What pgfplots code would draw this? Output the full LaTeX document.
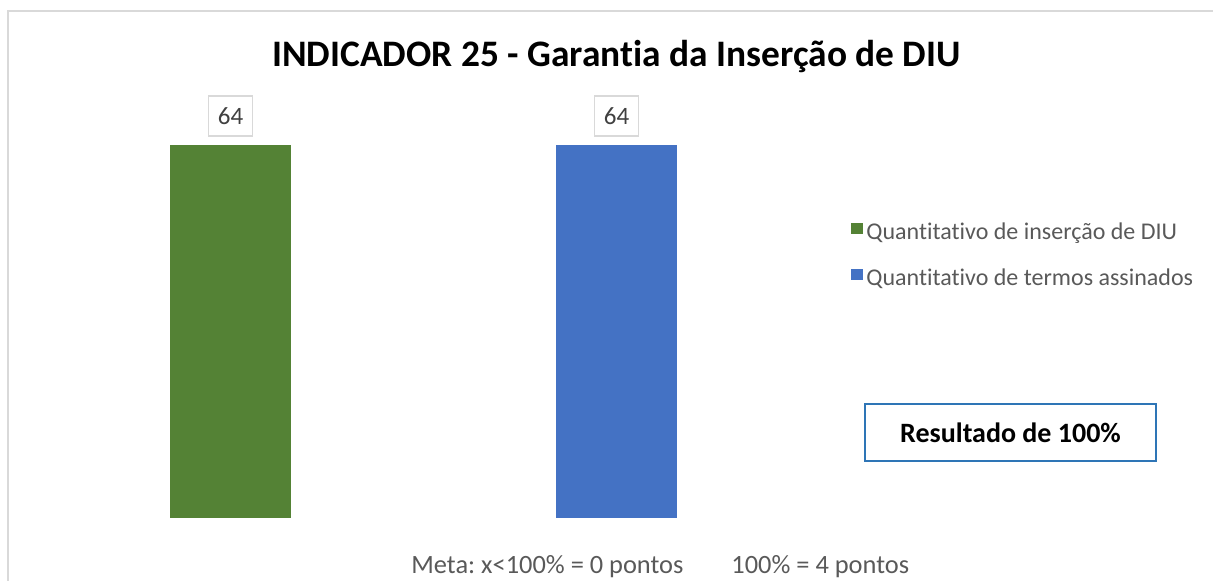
\documentclass[border=0pt]{standalone}
\usepackage{fontspec}
\setmainfont{Carlito}[RawFeature=-liga]
\usepackage{pgfplots}
\pgfplotsset{compat=1.18}
\definecolor{cgreen}{HTML}{548235}
\definecolor{cblue}{HTML}{4472C4}
\definecolor{cborder}{HTML}{D9D9D9}
\definecolor{clegend}{HTML}{595959}
\definecolor{clabel}{HTML}{404040}
\definecolor{cres}{HTML}{2E75B6}
\frenchspacing
\begin{document}
\begin{tikzpicture}
\useasboundingbox (0,0) rectangle (606.5pt,-290.5pt);
\begin{scope}[x=0.5pt,y=-0.5pt]
\draw[cborder,line width=1pt] (7.5,581) -- (7.5,11.5) -- (1213,11.5);
\node[anchor=base,font=\fontsize{18.7}{22}\selectfont\bfseries] at (616.5,67) {INDICADOR 25 - Garantia da Inserção de DIU};
\node[draw=cres,line width=1pt,minimum width=145.5pt,minimum height=28.5pt,inner sep=0pt,font=\fontsize{14}{16}\selectfont\bfseries] at (1010.5,432.5) {Resultado de 100\%};
\node[anchor=base west,inner sep=0pt,text=clegend,font=\fontsize{13.2}{15}\selectfont] at (411,573) {Meta: x<100\% = 0 pontos};
\node[anchor=base west,inner sep=0pt,text=clegend,font=\fontsize{13.2}{15}\selectfont] at (731,573) {100\% = 4 pontos};
\end{scope}
\begin{axis}[
  at={(18.75pt,-259pt)}, anchor=south west,
  scale only axis, width=386pt, height=186.5pt,
  xmin=-0.5, xmax=1.5, ymin=0, ymax=64,
  axis lines=none, clip=false,
  ybar, bar width=60.5pt, bar shift=0pt,
  nodes near coords,
  /pgf/number format/assume math mode=true,
  every node near coord/.append style={draw=cborder,line width=0.9pt,fill=white,text=clabel,
    font=\fontsize{12.5}{14}\selectfont,minimum width=22pt,minimum height=20pt,inner sep=0pt,anchor=south,yshift=4pt},
  legend style={draw=none,fill=none,at={(1.046,0.81)},anchor=north west,
    font=\fontsize{12}{14}\selectfont,text=clegend,row sep=10pt,
    nodes={inner sep=1.5pt}},
  legend cell align=left,
  legend image code/.code={\fill[#1] (0pt,-0.5pt) rectangle (6pt,5pt);},
]
\addplot[fill=cgreen,draw=none] coordinates {(0,64)};
\addplot[fill=cblue,draw=none] coordinates {(1,64)};
\legend{Quantitativo de inserção de DIU,Quantitativo de termos assinados}
\end{axis}
\end{tikzpicture}
\end{document}
